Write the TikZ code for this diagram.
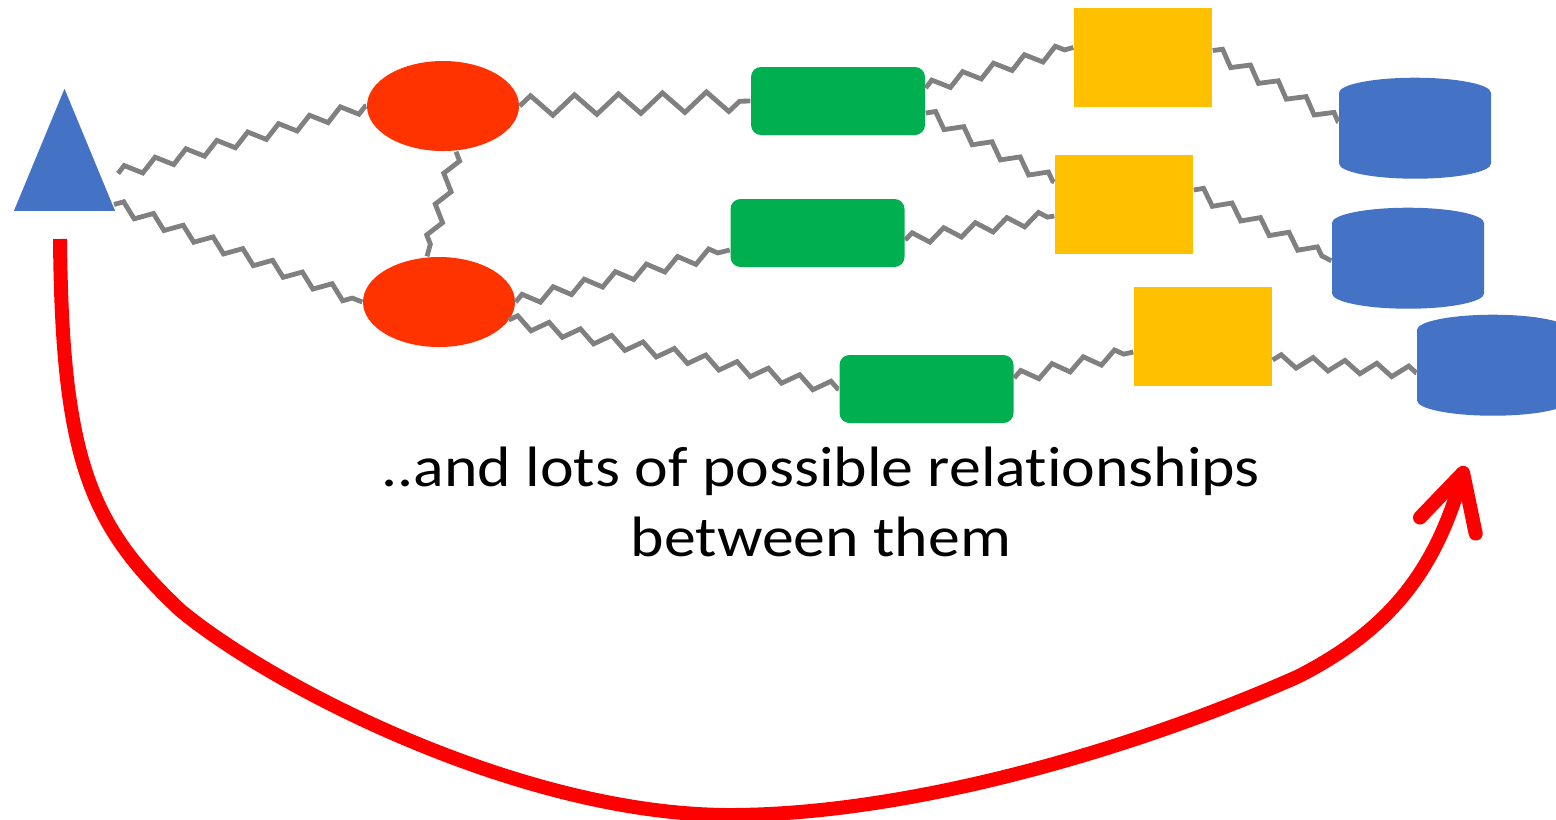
\documentclass[tikz,border=0pt]{standalone}
\usepackage{fontspec}
\setmainfont{Carlito}[Ligatures=NoCommon]
\usepackage{tikz}
\usetikzlibrary{shapes,positioning,calc,decorations.pathmorphing,arrows.meta}
\definecolor{actorblue}{HTML}{4472C4}
\definecolor{procred}{HTML}{FF3300}
\definecolor{appgreen}{HTML}{00B050}
\definecolor{srvyellow}{HTML}{FFC000}
\definecolor{linkgray}{HTML}{808080}

\begin{document}
\begin{tikzpicture}[
    actor/.style={isosceles triangle, shape border rotate=90, isosceles triangle stretches, fill=actorblue, inner sep=0pt, minimum width=1.01cm, minimum height=1.22cm},
    process/.style={ellipse, fill=procred, inner sep=0pt, minimum width=1.52cm, minimum height=0.90cm},
    app/.style={rectangle, rounded corners=0.1cm, fill=appgreen, inner sep=0pt, minimum width=1.74cm, minimum height=0.68cm},
    server/.style={rectangle, fill=srvyellow, inner sep=0pt, minimum width=1.38cm, minimum height=0.99cm},
    store/.style={cylinder, shape border rotate=90, aspect=0.2, anchor=north, fill=actorblue, inner xsep=0.76cm, inner ysep=0pt, minimum width=1.52cm, minimum height=1.01cm},
    link/.style={draw=linkgray, line width=0.048cm, decorate, decoration={zigzag, segment length=0.32cm, amplitude=0.06cm}},
    biglink/.style={link, decoration={zigzag, segment length=0.44cm, amplitude=0.10cm}}
]
    \useasboundingbox (0,0) rectangle (15.56,-8.19);

    % things
    \node [actor] (user) at (0.645,-1.77) {};
    \node [process] (proc1) at (4.43,-1.06) {};
    \node [process] (proc2) at (4.39,-3.02) {};
    \node [app] (app1) at (8.38,-1.01) {};
    \node [app] (app2) at (8.175,-2.33) {};
    \node [app] (app3) at (9.265,-3.89) {};
    \node [server] (srv1) at (11.43,-0.575) {};
    \node [server] (srv2) at (11.24,-2.04) {};
    \node [server] (srv3) at (12.03,-3.36) {};
    \node [store] (db1) at (14.15,-0.77) {};
    \node [store] (db2) at (14.08,-2.07) {};
    \node [store] (db3) at (14.93,-3.14) {};

    % relationships
    \draw [link] ([shift={(0.02,0.38)}]user.right corner) -- (proc1.west);
    \draw [link] ([shift={(-0.02,0.07)}]user.right corner) -- (proc2.west);
    \draw [biglink] (proc1.east) -- (app1.west);
    \draw [link] ([xshift=0.13cm]proc1.south) -- ([xshift=-0.12cm]proc2.north);
    \draw [link] ([yshift=0.13cm]app1.east) -- ([yshift=0.10cm]srv1.west);
    \draw [link] ([yshift=-0.12cm]app1.east) -- ([yshift=0.22cm]srv2.west);
    \draw [link] ([yshift=0.07cm]srv1.east) -- ([yshift=0.22cm]db1.west);
    \draw [link] (proc2.east) -- ([yshift=-0.17cm]app2.west);
    \draw [link] ([yshift=-0.07cm]app2.east) -- ([yshift=-0.12cm]srv2.west);
    \draw [link] ([yshift=0.14cm]srv2.east) -- ([yshift=0.13cm]db2.west);
    \draw [link] ([shift={(-0.07,-0.18)}]proc2.east) -- (app3.west);
    \draw [link] ([yshift=0.11cm]app3.east) -- ([yshift=-0.16cm]srv3.west);
    \draw [link] ([yshift=-0.24cm]srv3.east) -- ([yshift=0.08cm]db3.west);

    \node [align=center, xscale=1.12, transform shape, font=\fontsize{16.2pt}{19.9pt}\selectfont] (note) at (8.21,-5.02)
        {..and lots of possible relationships\\between them};

    % big arrow
    \coordinate (from) at (0.60,-2.39);
    \coordinate (bend) at (1.80,-6.10);
    \coordinate (low) at (7.30,-8.15);
    \coordinate (rise) at (12.97,-6.77);
    \coordinate (to) at (14.65,-4.66);
    \draw [red, line width=0.14cm, -{Straight Barb[length=0.55cm, width=0.58cm, round]}]
        (from) .. controls (0.62,-4.6) and (0.90,-5.25) .. (bend)
        .. controls (2.7,-6.85) and (5.2,-8.15) .. (low)
        .. controls (9.0,-8.15) and (11.2,-7.55) .. (rise)
        .. controls (13.9,-6.3) and (14.35,-5.7) .. (to);
\end{tikzpicture}
\end{document}
